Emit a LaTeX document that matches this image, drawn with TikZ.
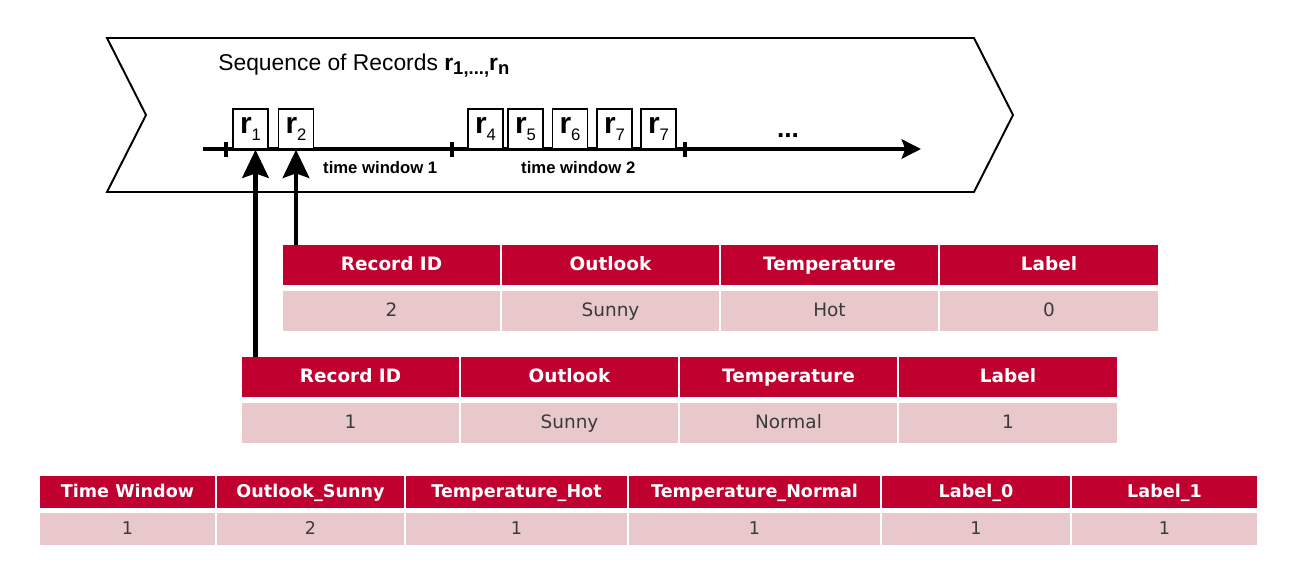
\documentclass[tikz,border=0pt]{standalone}
\usepackage{fontspec}
\setmainfont{Liberation Sans}
\newfontfamily\tabfont{DejaVu Sans}
\usepackage{xcolor}
\usepackage{tikz}
\usetikzlibrary{arrows.meta}

\definecolor{hdrred}{HTML}{C0002F}
\definecolor{rowpink}{HTML}{E8C8CA}
\definecolor{celltext}{HTML}{3A3A3A}

\newcommand{\rsub}[1]{\raisebox{-0.4ex}{\fontsize{10.5}{10.5}\selectfont #1}}
\newcommand{\rlab}[1]{\raisebox{-2.5pt}{\textbf{r}\raisebox{-0.4ex}{\fontsize{9.5}{9.5}\selectfont #1}}}

\tikzset{
  recbox/.style={draw, line width=0.8pt, fill=white, minimum width=0.7cm, minimum height=0.8cm,
    inner sep=0pt, font=\fontsize{17}{17}\selectfont},
  uparrow/.style={line width=2.8pt, -{Stealth[length=16pt,width=15pt,inset=2.5pt]}},
  hdcell/.style={fill=hdrred, text=white, inner sep=0pt, text height=1.55ex, text depth=0.35ex,
    font=\tabfont\bfseries\fontsize{10.5}{12}\selectfont},
  valcell/.style={fill=rowpink, text=celltext, inner sep=0pt, text height=1.55ex, text depth=0.35ex,
    font=\tabfont\fontsize{10.5}{12}\selectfont},
  winlabel/.style={anchor=base west, font=\bfseries\fontsize{9.5}{11}\selectfont}
}

\begin{document}
\begin{tikzpicture}[x=0.02cm,y=-0.02cm]
\useasboundingbox (0,0) rectangle (1298,575);
% stream of records
\draw[line width=1.1pt] (107,38) -- (974,38) -- (1013,115) -- (974,192) -- (107,192) -- (146,115) -- cycle;
\node[anchor=base west, inner sep=0pt, font=\fontsize{13}{15}\selectfont] (title) at (218,70)
  {Sequence of Records \textbf{r\rsub{1,...,}r\rsub{n}}};
\coordinate (tstart) at (203,149);
\coordinate (tend) at (921,149);
\draw[line width=1.9pt, -{Stealth[length=11pt,width=11pt,inset=2pt]}] (tstart) -- (tend);
\foreach \x in {226,452,685}
  \draw[line width=2pt] (\x,142) -- (\x,157);
\foreach \n/\x/\k in {r1/250.5/1, r2/296/2, r4/485.5/4, r5/525.5/5, r6/570/6, r7/614.5/7, r8/658.5/7}
  \node[recbox] (\n) at (\x,129) {\rlab{\k}};
\node[font=\bfseries\fontsize{15}{15}\selectfont] (dots) at (788,136) {...};
\node[winlabel] (win1) at (317,173) {time window 1};
\node[winlabel] (win2) at (515,173) {time window 2};

% record 2
\foreach \l/\r/\hd/\v [count=\i] in {283/500/Record ID/2, 502/719/Outlook/Sunny, 721/938/Temperature/Hot, 940/1158/Label/0} {
  \node[hdcell, minimum width={(\r-\l)*0.02cm}, minimum height=0.8cm] (rec2-h\i) at ({(\l+\r)/2},265) {\hd};
  \node[valcell, minimum width={(\r-\l)*0.02cm}, minimum height=0.8cm] (rec2-d\i) at ({(\l+\r)/2},311) {\v};
}
% record 1
\foreach \l/\r/\hd/\v [count=\i] in {242/459/Record ID/1, 461/678/Outlook/Sunny, 680/897/Temperature/Normal, 899/1117/Label/1} {
  \node[hdcell, minimum width={(\r-\l)*0.02cm}, minimum height=0.8cm] (rec1-h\i) at ({(\l+\r)/2},377) {\hd};
  \node[valcell, minimum width={(\r-\l)*0.02cm}, minimum height=0.8cm] (rec1-d\i) at ({(\l+\r)/2},423) {\v};
}
% aggregated time window
\foreach \l/\r/\hd/\v [count=\i] in {40/215/Time Window/1, 217/404/Outlook\_Sunny/2, 406/627/Temperature\_Hot/1,
    629/880/Temperature\_Normal/1, 882/1070/Label\_0/1, 1072/1257/Label\_1/1} {
  \node[hdcell, font=\tabfont\bfseries\fontsize{10}{12}\selectfont, minimum width={(\r-\l)*0.02cm}, minimum height=0.64cm] (agg-h\i) at ({(\l+\r)/2},492) {\hd};
  \node[valcell, font=\tabfont\fontsize{10}{12}\selectfont, minimum width={(\r-\l)*0.02cm}, minimum height=0.64cm] (agg-d\i) at ({(\l+\r)/2},529) {\v};
}

\draw[uparrow] ([xshift=0.1cm]r1.south |- rec1-h1.north) -- ([xshift=0.1cm]r1.south);
\draw[uparrow] (r2.south |- rec2-h1.north) -- (r2.south);
\end{tikzpicture}
\end{document}
